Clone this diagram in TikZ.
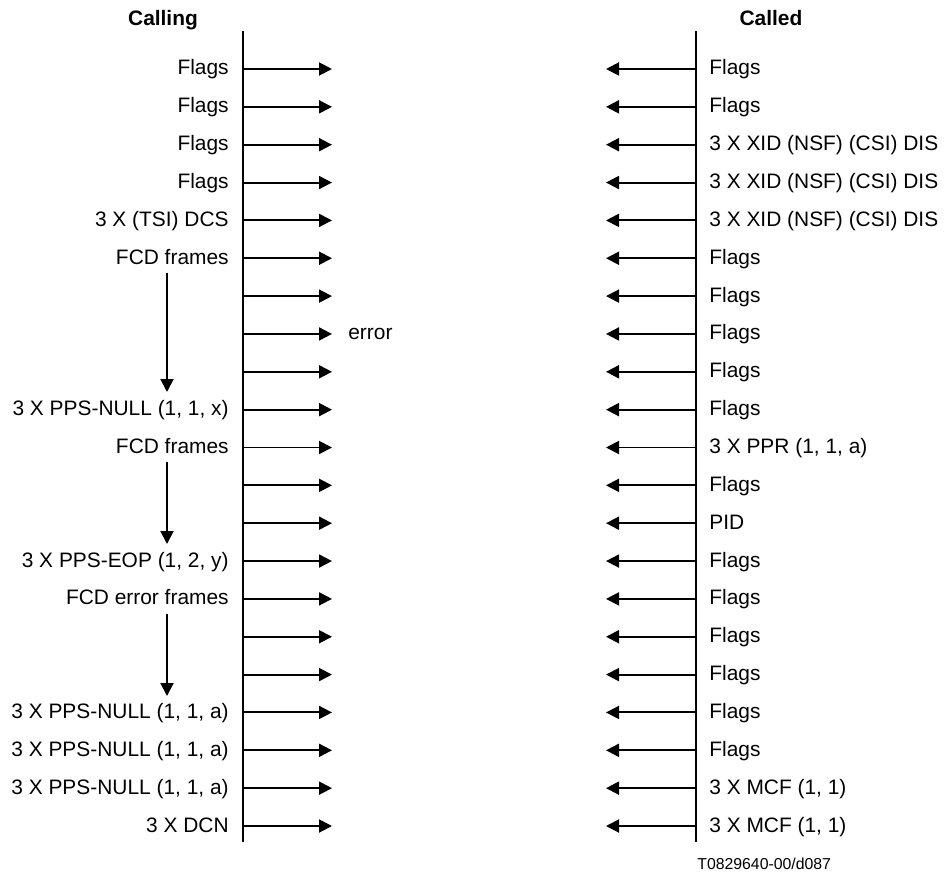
\documentclass[tikz,border=0pt]{standalone}
\usepackage{fontspec}
\setmainfont{Liberation Sans}
\usetikzlibrary{arrows.meta,positioning}

\begin{document}
\begin{tikzpicture}[
    x=0.02cm, y=-0.02cm,
    lifeline/.style={line width=1.1pt},
    msg/.style={-{Triangle[length=0.26cm,width=0.26cm]}, line width=1.1pt},
    lbl/.style={font=\fontsize{11.9}{14}\selectfont, inner sep=0pt},
    head/.style={font=\fontsize{11.9}{14}\selectfont\bfseries, inner sep=0pt},
    tag/.style={font=\fontsize{9}{11}\selectfont, inner sep=0pt}
]
    \useasboundingbox (0,0) rectangle (946,875);

    % Lifelines
    \coordinate (calltop) at (243,31);
    \coordinate (callbot) at (243,842);
    \coordinate (caldtop) at (696,31);
    \coordinate (caldbot) at (696,842);
    \node [head, anchor=base] (calling) at (163,26) {Calling};
    \node [head, anchor=base] (called) at (771,26) {Called};
    \draw [lifeline] (calltop) -- (callbot);
    \draw [lifeline] (caldtop) -- (caldbot);

    % Messages
    \foreach \i/\ltext/\rtext in {
        1/Flags/Flags, 2/Flags/Flags,
        3/Flags/{3 X XID (NSF) (CSI) DIS}, 4/Flags/{3 X XID (NSF) (CSI) DIS},
        5/{3 X (TSI) DCS}/{3 X XID (NSF) (CSI) DIS},
        6/{FCD frames}/Flags, 7//Flags, 8//Flags, 9//Flags,
        10/{3 X PPS-NULL (1, 1, x)}/Flags, 11/{FCD frames}/{3 X PPR (1, 1, a)},
        12//Flags, 13//PID, 14/{3 X PPS-EOP (1, 2, y)}/Flags,
        15/{FCD error frames}/Flags, 16//Flags, 17//Flags,
        18/{3 X PPS-NULL (1, 1, a)}/Flags, 19/{3 X PPS-NULL (1, 1, a)}/Flags,
        20/{3 X PPS-NULL (1, 1, a)}/{3 X MCF (1, 1)}, 21/{3 X DCN}/{3 X MCF (1, 1)}} {
        \pgfmathsetmacro\yy{69+(\i-1)*37.85}
        \coordinate (l\i) at (243,\yy);
        \coordinate (la\i) at (332,\yy);
        \coordinate (r\i) at (696,\yy);
        \coordinate (ra\i) at (606,\yy);
        \node [lbl, anchor=base east] (ltxt\i) at (229,\yy+6) {\ltext};
        \node [lbl, anchor=base west] (rtxt\i) at (709,\yy+6) {\rtext};
        \draw [msg] (l\i) -- (la\i);
        \draw [msg] (r\i) -- (ra\i);
    }
    \node [lbl, anchor=base west] (err) at ([xshift=16*0.02cm, yshift=-6*0.02cm]la8) {error};

    % Frame sequences
    \coordinate (seqa) at (167,273);
    \coordinate (seqb) at (167,392);
    \coordinate (seqc) at (167,462);
    \coordinate (seqd) at (167,544);
    \coordinate (seqe) at (167,614);
    \coordinate (seqf) at (167,696);
    \draw [msg] (seqa) -- (seqb);
    \draw [msg] (seqc) -- (seqd);
    \draw [msg] (seqe) -- (seqf);

    \node [tag, anchor=base west] (figid) at (697,869) {T0829640-00/d087};
\end{tikzpicture}
\end{document}
